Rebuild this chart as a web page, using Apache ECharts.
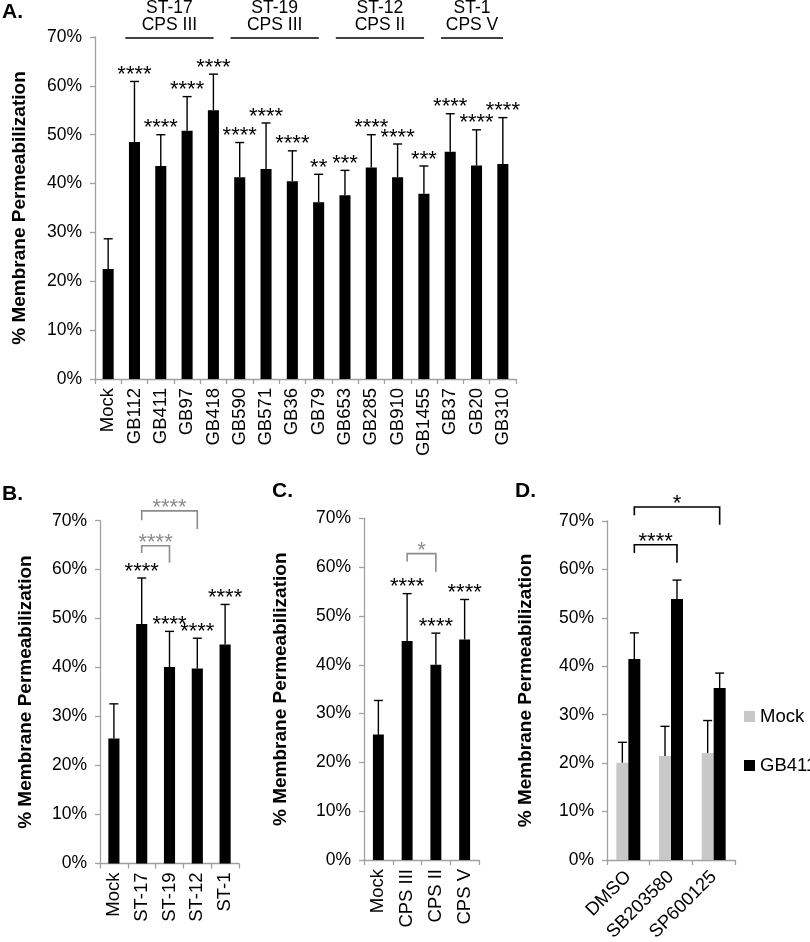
<!DOCTYPE html>
<html><head><meta charset="utf-8">
<script src="https://cdn.jsdelivr.net/npm/echarts@6/dist/echarts.min.js"></script>
<style>html,body{margin:0;padding:0;background:#fff}#c{width:810px;height:942px}</style>
</head><body><div id="c"></div>
<script>
// ---------- data ----------
const catsA = ['Mock','GB112','GB411','GB97','GB418','GB590','GB571','GB36','GB79','GB653','GB285','GB910','GB1455','GB37','GB20','GB310'];
const valsA = [22.5,48.5,43.6,50.8,55.0,41.3,43.0,40.5,36.2,37.6,43.3,41.3,37.9,46.5,43.7,44.0];
const errA  = [6.2,12.4,6.4,7.0,7.4,7.1,9.4,6.2,5.7,5.1,6.7,6.8,5.7,7.8,7.3,9.5];
const sigA  = ['','****','****','****','****','****','****','****','**','***','****','****','***','****','****','****'];
const groupsA = [[1,4,'ST-17','CPS III'],[5,8,'ST-19','CPS III'],[9,12,'ST-12','CPS II'],[13,15,'ST-1','CPS V']];

const catsB = ['Mock','ST-17','ST-19','ST-12','ST-1'];
const valsB = [25.5,48.9,40.1,39.8,44.7];
const errB  = [7.1,9.4,7.3,6.2,8.2];
const sigB  = ['','****','****','****','****'];
const bracketsB = [[1,3,72.0,70.1,68.3,'****'],[1,2,64.9,63.4,61.4,'****']];

const catsC = ['Mock','CPS III','CPS II','CPS V'];
const valsC = [25.7,44.9,40.0,45.2];
const errC  = [7.0,9.7,6.5,8.2];
const sigC  = ['','****','****','****'];
const bracketsC = [[1,2,62.8,61.2,59.1,'*']];

const catsD = ['DMSO','SB203580','SP600125'];
const mockD = [20.1,21.5,22.1];
const mockErrD = [4.2,6.1,6.7];
const gbD = [41.5,53.9,35.5];
const gbErrD = [5.4,3.9,3.1];
const bracketsD = [[0,1,65.1,63.4,61.4,'****'],[0,2,72.9,71.2,69.2,'*']];

const yTicks = [0,10,20,30,40,50,60,70];

// ---------- styling ----------
const FONT = '"Liberation Sans", Arial, sans-serif';
const AX = '#a0a0a0';
const GRAYB = '#8c8c8c';
const STAR = 22;

function yAxis(gi, gap){
  return {type:'value', gridIndex:gi, min:yTicks[0], max:yTicks[yTicks.length-1], interval:10,
    axisLine:{show:true, lineStyle:{color:AX, width:1.3}},
    axisTick:{show:true, length:5, lineStyle:{color:AX, width:1.3}},
    splitLine:{show:false},
    axisLabel:{formatter:'{value}%', color:'#000', fontSize:17.5, fontFamily:FONT, margin:13},
    name:'% Membrane Permeabilization', nameLocation:'middle', nameGap:gap, nameRotate:90,
    nameTextStyle:{fontWeight:'bold', fontSize:19, fontFamily:FONT, color:'#000'}};
}
function xAxis(gi, cats, rotate, margin){
  return {type:'category', gridIndex:gi, data:cats,
    axisLine:{show:true, lineStyle:{color:AX, width:1.3}},
    axisTick:{show:true, length:5, interval:0, lineStyle:{color:AX, width:1.3}},
    axisLabel:{interval:0, rotate:rotate, color:'#000', fontSize:18.5, fontFamily:FONT, margin:margin}};
}
function errSeries(ai, vals, errs, sigs, offset){
  return {type:'custom', xAxisIndex:ai, yAxisIndex:ai, clip:false, z:5,
    data: vals.map((v,i)=>[i, v, v+errs[i]]),
    renderItem:(params, api)=>{
      const i = api.value(0);
      const p0 = api.coord([i, api.value(1)]);
      const p1 = api.coord([i, api.value(2)]);
      const x = p0[0] + offset;
      const ch = [
        {type:'line', shape:{x1:x,y1:p0[1],x2:x,y2:p1[1]}, style:{stroke:'#000', lineWidth:1.4}},
        {type:'line', shape:{x1:x-4.5,y1:p1[1],x2:x+4.5,y2:p1[1]}, style:{stroke:'#000', lineWidth:1.4}}
      ];
      const s = sigs ? sigs[params.dataIndex] : '';
      if (s) ch.push({type:'text', x:x, y:p1[1]-6.5, style:{text:s, fill:'#000', fontSize:STAR, fontFamily:FONT, align:'center', verticalAlign:'middle'}});
      return {type:'group', children:ch};
    }};
}
function bracketSeries(ai, brs, color, offset){
  return {type:'custom', xAxisIndex:ai, yAxisIndex:ai, clip:false, z:6,
    data: brs.map(b=>[b[0],b[1],b[2],b[3],b[4]]),
    renderItem:(params, api)=>{
      const a = api.coord([api.value(0), api.value(2)]);
      const b = api.coord([api.value(1), api.value(2)]);
      const yl = api.coord([api.value(0), api.value(3)])[1];
      const yr = api.coord([api.value(1), api.value(4)])[1];
      const xa = a[0]+offset, xb = b[0]+offset, yt = a[1];
      return {type:'group', children:[
        {type:'polyline', shape:{points:[[xa,yl],[xa,yt],[xb,yt],[xb,yr]]}, style:{stroke:color, fill:null, lineWidth:1.6}},
        {type:'text', x:(xa+xb)/2, y:yt-2.7, style:{text:brs[params.dataIndex][5], fill:color, fontSize:STAR, fontFamily:FONT, align:'center', verticalAlign:'middle'}}
      ]};
    }};
}
function groupSeries(){
  return {type:'custom', xAxisIndex:0, yAxisIndex:0, clip:false, z:6,
    data: groupsA.map(g=>[g[0],g[1]]),
    renderItem:(params, api)=>{
      const bw = api.size([1,0])[0];
      const a = api.coord([api.value(0), 70]);
      const b = api.coord([api.value(1), 70]);
      const x1 = a[0]-bw/2+4, x2 = b[0]+bw/2-13, y = a[1]+1;
      const g = groupsA[params.dataIndex];
      return {type:'group', children:[
        {type:'line', shape:{x1:x1,y1:y,x2:x2,y2:y}, style:{stroke:'#000', lineWidth:1.6}},
        {type:'text', x:(x1+x2)/2, y:y-13, style:{text:g[3], fill:'#000', fontSize:17.5, fontFamily:FONT, align:'center', verticalAlign:'middle'}},
        {type:'text', x:(x1+x2)/2, y:y-29.5, style:{text:g[2], fill:'#000', fontSize:17.5, fontFamily:FONT, align:'center', verticalAlign:'middle'}}
      ]};
    }};
}

const chart = echarts.init(document.getElementById('c'), null, {renderer:'canvas'});
chart.setOption({
  animation:false,
  backgroundColor:'#fff',
  textStyle:{fontFamily:FONT},
  grid:[
    {left:95, top:37, right:294, bottom:563, outerBoundsMode:'none'},
    {left:100, top:520.7, right:571, bottom:78.5, outerBoundsMode:'none'},
    {left:364, top:518.5, right:331, bottom:82, outerBoundsMode:'none'},
    {left:607, top:521, right:75, bottom:82, outerBoundsMode:'none'}
  ],
  xAxis:[xAxis(0,catsA,90,9), xAxis(1,catsB,90,9), xAxis(2,catsC,90,9), xAxis(3,catsD,45,14)],
  yAxis:[yAxis(0,66), yAxis(1,65), yAxis(2,74), yAxis(3,72)],
  legend:{show:true, data:['Mock','GB411'], orient:'vertical', left:739, top:702, itemWidth:11, itemHeight:11, itemGap:30,
    icon:'rect', textStyle:{fontSize:18.5, fontFamily:FONT, color:'#000'}, selectedMode:false},
  graphic:[
    {type:'text', left:2, top:2, style:{text:'A.', fontSize:21, fontWeight:'bold', fontFamily:FONT, fill:'#000'}},
    {type:'text', left:2, top:484, style:{text:'B.', fontSize:21, fontWeight:'bold', fontFamily:FONT, fill:'#000'}},
    {type:'text', left:272, top:481, style:{text:'C.', fontSize:21, fontWeight:'bold', fontFamily:FONT, fill:'#000'}},
    {type:'text', left:515, top:481, style:{text:'D.', fontSize:21, fontWeight:'bold', fontFamily:FONT, fill:'#000'}}
  ],
  series:[
    {type:'bar', xAxisIndex:0, yAxisIndex:0, data:valsA, barWidth:'42%', itemStyle:{color:'#000'}},
    errSeries(0, valsA, errA, sigA, 0),
    groupSeries(),
    {type:'bar', xAxisIndex:1, yAxisIndex:1, data:valsB, barWidth:'40%', itemStyle:{color:'#000'}},
    errSeries(1, valsB, errB, sigB, 0),
    bracketSeries(1, bracketsB, GRAYB, 0),
    {type:'bar', xAxisIndex:2, yAxisIndex:2, data:valsC, barWidth:'38%', itemStyle:{color:'#000'}},
    errSeries(2, valsC, errC, sigC, 0),
    bracketSeries(2, bracketsC, GRAYB, 0),
    {name:'Mock', type:'bar', xAxisIndex:3, yAxisIndex:3, data:mockD, barWidth:12, barGap:'0%', itemStyle:{color:'#c8c8c8'}},
    {name:'GB411', type:'bar', xAxisIndex:3, yAxisIndex:3, data:gbD, barWidth:12, barGap:'0%', itemStyle:{color:'#000'}},
    errSeries(3, mockD, mockErrD, null, -6),
    errSeries(3, gbD, gbErrD, null, 6),
    bracketSeries(3, bracketsD, '#000', 6)
  ]
});
</script>
</body></html>
